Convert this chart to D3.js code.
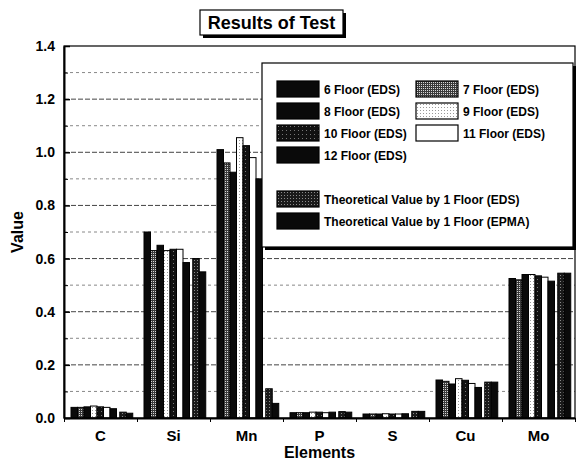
<!DOCTYPE html>
<html>
<head>
<meta charset="utf-8">
<script src="https://cdn.jsdelivr.net/npm/d3@7"></script>
<style>
body { margin: 0; background: #fff; }
text { font-family: "Liberation Sans", Arial, sans-serif; font-weight: bold; fill: #000; }
</style>
</head>
<body>
<div id="chart"></div>
<script>
// data
var elements = ["C", "Si", "Mn", "P", "S", "Cu", "Mo"];
var seriesNames = ["6 Floor (EDS)", "7 Floor (EDS)", "8 Floor (EDS)", "9 Floor (EDS)",
    "10 Floor (EDS)", "11 Floor (EDS)", "12 Floor (EDS)",
    "Theoretical Value by 1 Floor (EDS)", "Theoretical Value by 1 Floor (EPMA)"];
var floor6   = [0.040, 0.700, 1.010, 0.020, 0.015, 0.143, 0.525];
var floor7   = [0.040, 0.630, 0.960, 0.020, 0.015, 0.138, 0.520];
var floor8   = [0.042, 0.650, 0.925, 0.020, 0.015, 0.128, 0.540];
var floor9   = [0.045, 0.630, 1.055, 0.022, 0.016, 0.148, 0.540];
var floor10  = [0.042, 0.635, 1.025, 0.022, 0.015, 0.142, 0.535];
var floor11  = [0.040, 0.635, 0.980, 0.020, 0.015, 0.130, 0.530];
var floor12  = [0.035, 0.585, 0.900, 0.022, 0.016, 0.115, 0.515];
var theoEDS  = [0.022, 0.600, 0.110, 0.024, 0.025, 0.135, 0.545];
var theoEPMA = [0.018, 0.550, 0.055, 0.022, 0.025, 0.135, 0.545];
var yTicks = [0, 0.2, 0.4, 0.6, 0.8, 1.0, 1.2, 1.4];

var allSeries = [floor6, floor7, floor8, floor9, floor10, floor11, floor12, theoEDS, theoEPMA];

var svgWidth = 577;
var svgHeight = 468;
var margin = { top: 46, right: 2, bottom: 50, left: 64 };
var width = svgWidth - margin.left - margin.right;
var height = svgHeight - margin.top - margin.bottom;

var svg = d3.select("#chart")
    .append("svg")
    .attr("width", svgWidth)
    .attr("height", svgHeight);

// fill patterns to mimic the scanned textures
var defs = svg.append("defs");
function dotPattern(id, bg, dot, size) {
    var p = defs.append("pattern")
        .attr("id", id)
        .attr("width", size).attr("height", size)
        .attr("patternUnits", "userSpaceOnUse");
    p.append("rect").attr("width", size).attr("height", size).attr("fill", bg);
    p.append("rect").attr("x", 1).attr("y", 1).attr("width", 1).attr("height", 1).attr("fill", dot);
}
dotPattern("pat7", "#3a3a3a", "#d8d8d8", 2);
dotPattern("pat9", "#ffffff", "#999999", 3);
dotPattern("pat10", "#111111", "#777777", 4);
dotPattern("patTheo", "#1a1a1a", "#8a8a8a", 3);

var fills = ["#0a0a0a", "url(#pat7)", "#0a0a0a", "url(#pat9)", "url(#pat10)",
    "#ffffff", "#0a0a0a", "url(#patTheo)", "#0a0a0a"];

var chartGroup = svg.append("g")
    .attr("transform", `translate(${margin.left}, ${margin.top})`);

// scales
var xBand = d3.scaleBand()
    .domain(elements)
    .range([0, width]);

// slot offset inside each category, theoretical bars sit after a small gap
var slotScale = d3.scaleLinear()
    .domain([0, 9.5])
    .range([7, 7 + 9.5 * 6.5]);
var slotW = slotScale(1) - slotScale(0);

var yLinearScale = d3.scaleLinear()
    .domain([0, 1.4])
    .range([height, 0]);

// gridlines every 0.1
var gridVals = d3.range(1, 14).map(d => d / 10);
chartGroup.append("g")
    .selectAll("line")
    .data(gridVals)
    .enter()
    .append("line")
    .attr("x1", 0)
    .attr("x2", width)
    .attr("y1", d => yLinearScale(d))
    .attr("y2", d => yLinearScale(d))
    .attr("stroke", (d, i) => i % 2 ? "#444" : "#888")
    .attr("stroke-width", 1)
    .attr("stroke-dasharray", (d, i) => i % 2 ? "5,2" : "3,3");

// bars
var barData = [];
allSeries.forEach(function(vals, s) {
    vals.forEach(function(v, e) {
        barData.push({ s: s, el: elements[e], value: v });
    });
});

chartGroup.append("g")
    .selectAll("rect")
    .data(barData)
    .enter()
    .append("rect")
    .attr("x", d => xBand(d.el) + slotScale(d.s + (d.s >= 7 ? 0.5 : 0)))
    .attr("y", d => yLinearScale(d.value))
    .attr("width", slotW)
    .attr("height", d => height - yLinearScale(d.value))
    .attr("fill", d => fills[d.s])
    .attr("stroke", "#000")
    .attr("stroke-width", 1);

// frame
chartGroup.append("rect")
    .attr("width", width)
    .attr("height", height)
    .attr("fill", "none")
    .attr("stroke", "#000")
    .attr("stroke-width", 1.2);

// axes
var leftAxis = d3.axisLeft(yLinearScale)
    .tickValues(yTicks)
    .tickFormat(d3.format(".1f"))
    .tickSizeInner(-6)
    .tickSizeOuter(0)
    .tickPadding(9);

var yAxisG = chartGroup.append("g").call(leftAxis);
yAxisG.select(".domain").attr("stroke-width", 2);
yAxisG.selectAll("line").attr("stroke-width", 1.5);
yAxisG.selectAll("text")
    .style("font-size", "14px")
    .style("font-family", "'Liberation Sans', Arial, sans-serif")
    .style("font-weight", "bold");

var minorAxis = d3.axisLeft(yLinearScale)
    .tickValues([0.1, 0.3, 0.5, 0.7, 0.9, 1.1, 1.3])
    .tickFormat("")
    .tickSizeInner(-4)
    .tickSizeOuter(0);
chartGroup.append("g").call(minorAxis)
    .select(".domain").remove();

var bottomAxis = d3.axisBottom(xBand)
    .tickSize(0)
    .tickPadding(12);
var xAxisG = chartGroup.append("g")
    .attr("transform", `translate(0, ${height})`)
    .call(bottomAxis);
xAxisG.select(".domain").attr("stroke-width", 2);
xAxisG.selectAll("text")
    .style("font-size", "15px")
    .style("font-family", "'Liberation Sans', Arial, sans-serif")
    .style("font-weight", "bold");

var edgeScale = d3.scaleLinear().domain([0, elements.length]).range([0, width]);
var edgeAxis = d3.axisBottom(edgeScale)
    .ticks(elements.length)
    .tickFormat("")
    .tickSizeInner(4)
    .tickSizeOuter(0);
chartGroup.append("g")
    .attr("transform", `translate(0, ${height})`)
    .call(edgeAxis)
    .select(".domain").remove();

// axis labels
chartGroup.append("text")
    .attr("transform", "rotate(-90)")
    .attr("x", -height / 2)
    .attr("y", -margin.left + 23)
    .attr("text-anchor", "middle")
    .style("font-size", "16px")
    .text("Value");

chartGroup.append("text")
    .attr("x", width / 2)
    .attr("y", height + 40)
    .attr("text-anchor", "middle")
    .style("font-size", "16px")
    .text("Elements");

// title box with shadow
var title = svg.append("g").attr("transform", "translate(200, 10)");
title.append("rect")
    .attr("x", 3).attr("y", 3)
    .attr("width", 143).attr("height", 25)
    .attr("fill", "#000");
title.append("rect")
    .attr("width", 143).attr("height", 25)
    .attr("fill", "#fff")
    .attr("stroke", "#000")
    .attr("stroke-width", 1.2);
title.append("text")
    .attr("x", 71.5)
    .attr("y", 19)
    .attr("text-anchor", "middle")
    .style("font-size", "18px")
    .text("Results of Test");

// legend
var legend = svg.append("g").attr("transform", "translate(262, 63)");
legend.append("rect")
    .attr("x", 3).attr("y", 3)
    .attr("width", 311).attr("height", 184)
    .attr("fill", "#000");
legend.append("rect")
    .attr("width", 311).attr("height", 184)
    .attr("fill", "#fff")
    .attr("stroke", "#000")
    .attr("stroke-width", 1.2);

var legendPos = [
    [15, 18], [154, 18], [15, 40], [154, 40], [15, 62], [154, 62], [15, 84],
    [15, 128], [15, 150]
];

var items = legend.selectAll("g.item")
    .data(seriesNames)
    .enter()
    .append("g")
    .attr("class", "item")
    .attr("transform", (d, i) => `translate(${legendPos[i][0]}, ${legendPos[i][1]})`);

items.append("rect")
    .attr("width", 42)
    .attr("height", 16)
    .attr("fill", (d, i) => fills[i])
    .attr("stroke", "#000")
    .attr("stroke-width", 1.2);

items.append("text")
    .attr("x", 47)
    .attr("y", 12.5)
    .style("font-size", "12px")
    .text(d => d);
</script>
</body>
</html>
